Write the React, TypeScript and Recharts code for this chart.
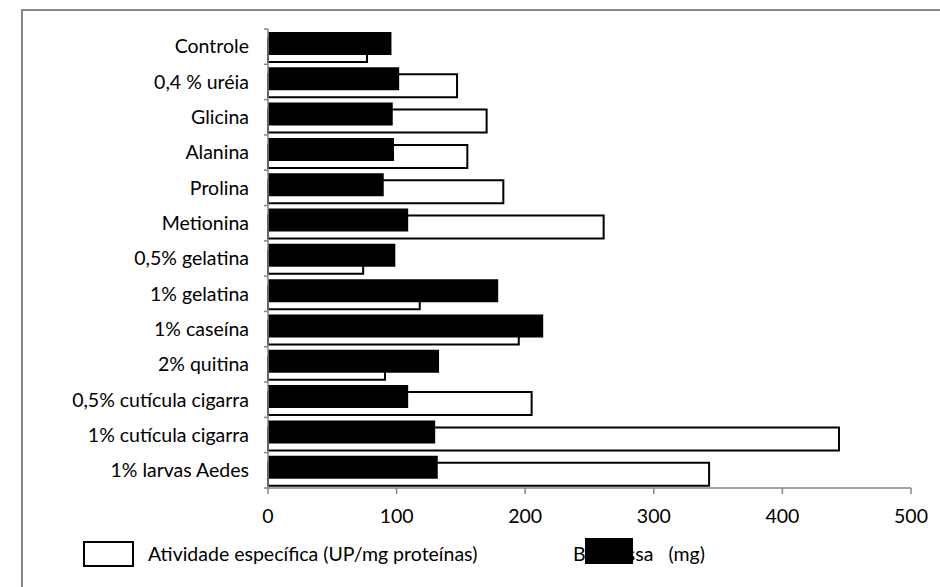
import { BarChart, Bar, XAxis, YAxis, Legend } from 'recharts';

const categorias = [
  'Controle',
  '0,4 % uréia',
  'Glicina',
  'Alanina',
  'Prolina',
  'Metionina',
  '0,5% gelatina',
  '1% gelatina',
  '1% caseína',
  '2% quitina',
  '0,5% cutícula cigarra',
  '1% cutícula cigarra',
  '1% larvas Aedes',
];
const atividade = [77, 147, 170, 155, 183, 261, 74, 118, 195, 91, 205, 444, 343];
const biomassa = [96, 102, 97, 98, 90, 109, 99, 179, 214, 133, 109, 130, 132];
const ticksX = [0, 100, 200, 300, 400, 500];

const dados = categorias.map((nome, i) => ({
  nome,
  atividade: atividade[i],
  biomassa: biomassa[i],
}));

const FONTE = 'Lato, "Open Sans", sans-serif';
const TAM = 19.5;
const CINZA = '#868686';
const W = 940;
const H = 587;
const MARGEM = { top: 29, right: 29, bottom: 59, left: 22 };
const LARG_Y = 246;
const EIXO_X = MARGEM.left + LARG_Y;
const META_BANDA = (H - MARGEM.top - MARGEM.bottom - 40) / categorias.length / 2;

function TickCategoria(props: any) {
  const { y, payload, index } = props;
  const ultimo = index === categorias.length - 1;
  return (
    <g>
      <line x1={EIXO_X - 4} x2={EIXO_X} y1={y - META_BANDA} y2={y - META_BANDA} stroke={CINZA} strokeWidth={1.5} />
      {ultimo && (
        <line x1={EIXO_X - 4} x2={EIXO_X} y1={y + META_BANDA} y2={y + META_BANDA} stroke={CINZA} strokeWidth={1.5} />
      )}
      <text x={EIXO_X - 19} y={y} dy="0.35em" textAnchor="end" fill="#000" fontSize={TAM} fontFamily={FONTE}>
        {payload.value}
      </text>
    </g>
  );
}

function Legenda(props: any) {
  const itens = props.payload || [];
  const ativ = itens.find((p: any) => p.dataKey === 'atividade');
  const bio = itens.find((p: any) => p.dataKey === 'biomassa');
  const texto = {
    position: 'absolute' as const,
    top: 4,
    lineHeight: '24px',
    fontSize: TAM,
    fontFamily: FONTE,
    color: '#000',
    whiteSpace: 'pre' as const,
  };
  return (
    <div style={{ position: 'relative', width: W, height: 30 }}>
      <div style={{ position: 'absolute', left: 83, top: 3, width: 47, height: 22, border: '2px solid #000', background: '#fff' }} />
      <span style={{ ...texto, left: 148 }}>{ativ ? ativ.value : ''}</span>
      <span style={{ ...texto, left: 573 }}>{bio ? bio.value : ''}</span>
      <div style={{ position: 'absolute', left: 585, top: 0, width: 48, height: 26, background: '#000' }} />
    </div>
  );
}

export default function App() {
  return (
    <div style={{ position: 'fixed', left: 0, top: 0, width: W, height: H, overflow: 'hidden', background: '#fff' }}>
      <div
        style={{
          position: 'absolute',
          left: 21,
          top: 9,
          width: 2000,
          height: 2000,
          borderTop: `2px solid ${CINZA}`,
          borderLeft: `2px solid ${CINZA}`,
        }}
      />
      <div style={{ position: 'absolute', left: 0, top: 0 }}>
        <BarChart layout="vertical" width={W} height={H} data={dados} margin={MARGEM} barSize={23}>
          <XAxis
            type="number"
            domain={[0, 500]}
            ticks={ticksX}
            height={40}
            tickSize={6}
            tickMargin={15}
            stroke={CINZA}
            axisLine={{ stroke: CINZA, strokeWidth: 1.5 }}
            tickLine={{ stroke: CINZA, strokeWidth: 1.5 }}
            tick={{ fill: '#000', fontSize: TAM, fontFamily: FONTE }}
          />
          <YAxis
            yAxisId="rotulos"
            type="category"
            dataKey="nome"
            width={LARG_Y}
            tickLine={false}
            axisLine={{ stroke: CINZA, strokeWidth: 1.5 }}
            tick={<TickCategoria />}
            interval={0}
          />
          <YAxis yAxisId="ativ" type="category" dataKey="nome" hide width={0} padding={{ top: 4, bottom: -4 }} />
          <YAxis yAxisId="bio" type="category" dataKey="nome" hide width={0} padding={{ top: -3, bottom: 3 }} />
          <Legend
            verticalAlign="middle"
            layout="horizontal"
            content={<Legenda />}
            wrapperStyle={{ left: 0, top: 538, width: W, height: 30 }}
          />
          <Bar
            yAxisId="ativ"
            dataKey="atividade"
            name="Atividade específica (UP/mg proteínas)"
            fill="#fff"
            stroke="#000"
            strokeWidth={2}
            isAnimationActive={false}
          />
          <Bar
            yAxisId="bio"
            dataKey="biomassa"
            name="Biomassa   (mg)"
            fill="#000"
            isAnimationActive={false}
          />
        </BarChart>
      </div>
    </div>
  );
}
